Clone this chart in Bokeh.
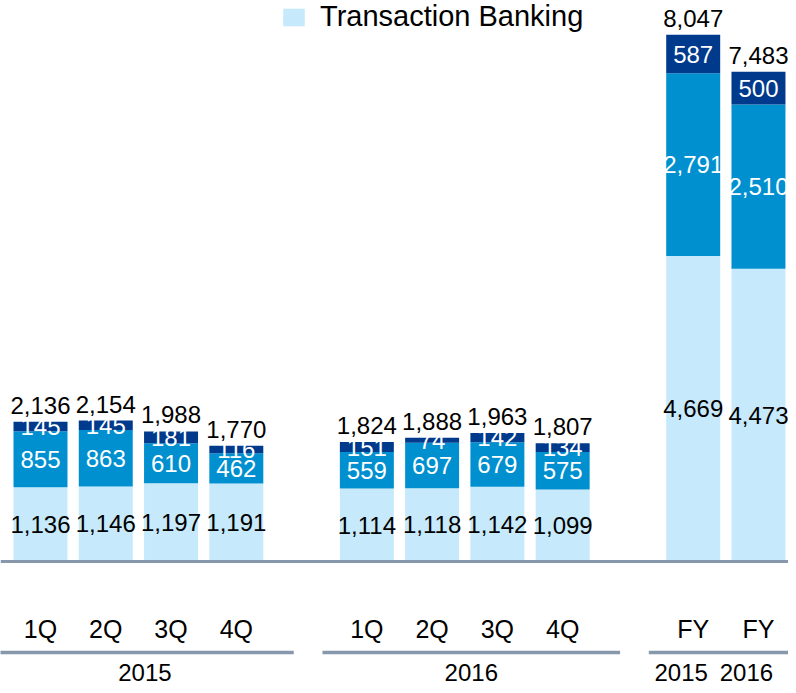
from bokeh.plotting import figure
from bokeh.models import ColumnDataSource, Span, Legend, LegendItem, Range1d
from bokeh.core.properties import value
from bokeh.embed import file_html
from bokeh.resources import INLINE

# ---------------- data ----------------
groups = ["2015", "2016", "FY"]
period_labels = ["1Q", "2Q", "3Q", "4Q", "1Q", "2Q", "3Q", "4Q", "FY", "FY"]
bar_group = [0, 0, 0, 0, 1, 1, 1, 1, 2, 2]
bar_in_group = [0, 1, 2, 3, 0, 1, 2, 3, 0, 1]
fy_years = ["2015", "2016"]

transaction_banking = [1136, 1146, 1197, 1191, 1114, 1118, 1142, 1099, 4669, 4473]
middle_segment = [855, 863, 610, 462, 559, 697, 679, 575, 2791, 2510]
top_segment = [145, 145, 181, 116, 151, 74, 142, 134, 587, 500]
totals = [2136, 2154, 1988, 1770, 1824, 1888, 1963, 1807, 8047, 7483]

# ---------------- style ----------------
C_LIGHT = "#c6eafb"
C_MID = "#0090d0"
C_DARK = "#003a8c"
C_LINE = "#8798ad"
FONT = value("Liberation Sans")

W, H = 788, 685
GROUP_STRIDE = 5
x = [g * GROUP_STRIDE + i for g, i in zip(bar_group, bar_in_group)]

unit_px = 65.27
x_start = -40 / unit_px
x_end = x_start + W / unit_px
y_scale = 0.06545  # px per value unit
BASE_PX = 561
y_end = BASE_PX / y_scale
y_start = -(H - BASE_PX) / y_scale

p = figure(width=W, height=H, x_range=Range1d(x_start, x_end), y_range=Range1d(y_start, y_end),
           x_axis_type=None, y_axis_type=None, output_backend="svg", toolbar_location=None,
           min_border=0)
p.outline_line_color = None
p.background_fill_color = "white"
p.border_fill_color = "white"

b0 = [0] * len(x)
t0 = transaction_banking
t1 = [a + b for a, b in zip(t0, middle_segment)]
t2 = [a + b for a, b in zip(t1, top_segment)]

src = ColumnDataSource(dict(
    x=x, b0=b0, t0=t0, t1=t1, t2=t2,
    m0=[(a + b) / 2 for a, b in zip(b0, t0)],
    m1=[(a + b) / 2 for a, b in zip(t0, t1)],
    m2=[(a + b) / 2 for a, b in zip(t1, t2)],
    l0=[f"{v:,}" for v in transaction_banking],
    l1=[f"{v:,}" for v in middle_segment],
    l2=[f"{v:,}" for v in top_segment],
    tot=[f"{v:,}" for v in totals],
    per=period_labels,
    zero=b0,
))

BW = 0.827
r_light = p.vbar(x="x", bottom="b0", top="t0", width=BW, source=src, fill_color=C_LIGHT, line_color=None)
p.vbar(x="x", bottom="t0", top="t1", width=BW, source=src, fill_color=C_MID, line_color=None)
p.vbar(x="x", bottom="t1", top="t2", width=BW, source=src, fill_color=C_DARK, line_color=None)

common = dict(text_font=FONT, text_font_size="24px", text_align="center", source=src)
p.text(x="x", y="m0", text="l0", text_baseline="middle", text_color="black", **common)
p.text(x="x", y="m1", text="l1", text_baseline="middle", text_color="white", **common)
p.text(x="x", y="m2", text="l2", text_baseline="middle", text_color="white", **common)
p.text(x="x", y="t2", text="tot", text_baseline="bottom", text_color="black", y_offset=-8, **common)

# baseline
p.add_layout(Span(location=0, dimension="width", line_color=C_LINE, line_width=3))

# period labels
p.text(x="x", y="zero", text="per", text_baseline="middle", text_color="black", y_offset=67,
       text_font=FONT, text_font_size="25px", text_align="center", source=src)

# group lines and labels
line_y = -91 / y_scale
gx0, gx1, gy, glx, gll = [], [], [], [], []
for gi, gname in enumerate(groups):
    xs = [xx for xx, g in zip(x, bar_group) if g == gi]
    gx0.append(min(xs) - 0.68)
    gx1.append(max(xs) + 0.88)
    gy.append(line_y)
    if gname != "FY":
        glx.append((gx0[-1] + gx1[-1]) / 2)
        gll.append(gname)
p.segment(x0=gx0, y0=gy, x1=gx1, y1=gy, line_color=C_LINE, line_width=3.5)

fy_x = [xx for xx, g in zip(x, bar_group) if g == 2]
p.text(x=glx, y=[0] * len(glx), text=gll, y_offset=111, text_baseline="middle",
       text_align="center", text_font=FONT, text_font_size="24px", text_color="black")
p.text(x=fy_x, y=[0] * len(fy_x), text=fy_years, y_offset=111, x_offset=-12, text_baseline="middle",
       text_align="center", text_font=FONT, text_font_size="24px", text_color="black")

legend = Legend(items=[LegendItem(label="Transaction Banking", renderers=[r_light])],
                location=(280, H - 33), orientation="vertical",
                label_text_font="Liberation Sans", label_text_font_size="29px",
                label_text_color="black",
                glyph_width=27, glyph_height=22, label_standoff=13, label_height=28,
                padding=0, margin=0, spacing=0,
                border_line_alpha=0, background_fill_alpha=0)
p.add_layout(legend)

open("out.html", "w").write(file_html(p, INLINE))
